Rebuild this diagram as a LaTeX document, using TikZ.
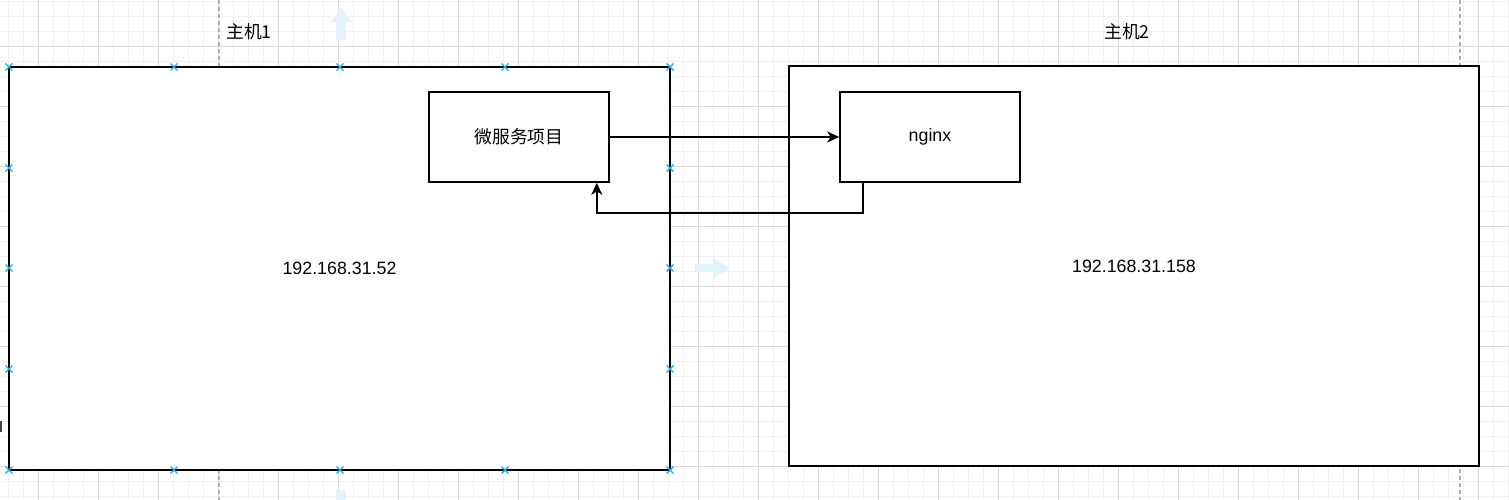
\documentclass[tikz,border=0pt]{standalone}
\usepackage{fontspec}
\setmainfont{Liberation Sans}
\newfontfamily\cjk{Noto Sans CJK SC}
\usetikzlibrary{arrows.meta,calc}
\definecolor{gminor}{HTML}{F1F1F1}
\definecolor{gmajor}{HTML}{DADADA}
\definecolor{selblue}{HTML}{29A8E8}
\definecolor{hoverblue}{HTML}{E3F3FC}
\tikzset{
  box/.style={draw=black, line width=1.6pt, fill=white, inner sep=0pt, font=\fontsize{17.8}{21}\selectfont},
  conn/.style={draw=black, line width=1.6pt, -{Stealth[length=12pt,width=11pt,inset=3.5pt]}},
  lbl/.style={font=\fontsize{17.8}{21}\selectfont, inner sep=0pt},
  minorgrid/.style={draw=gminor, line width=0.8pt},
  majorgrid/.style={draw=gmajor, line width=0.8pt},
  pagebreak/.style={draw=gmajor!80!black, line width=1.2pt, dash pattern=on 4pt off 3pt},
  selmark/.style={draw=selblue, line width=1.4pt},
  hover/.style={fill=hoverblue, draw=none}
}
\begin{document}
\begin{tikzpicture}[x=1pt,y=-1pt]
\useasboundingbox (0,0) rectangle (1509,500);
\fill[white] (0,0) rectangle (1509,500);
% grid
\foreach \i in {0,...,100} {
  \pgfmathsetmacro\gx{8+15*\i}
  \draw[minorgrid] (\gx,0) -- (\gx,500);
}
\foreach \i in {0,...,33} {
  \pgfmathsetmacro\gy{1.7+15*\i}
  \draw[minorgrid] (0,\gy) -- (1509,\gy);
}
\foreach \i in {0,...,24} {
  \pgfmathsetmacro\gx{38+60*\i}
  \draw[majorgrid] (\gx,0) -- (\gx,500);
}
\foreach \i in {0,...,7} {
  \pgfmathsetmacro\gy{46.7+60*\i}
  \draw[majorgrid] (0,\gy) -- (1509,\gy);
}
\draw[pagebreak] (219,0) -- (219,500);
\draw[pagebreak] (1460,0) -- (1460,500);
% hover arrows (editor)
\fill[hover] (336,40) -- (336,22) -- (331,22) -- (341,7) -- (351,22) -- (346,22) -- (346,40) -- cycle;
\fill[hover] (695,264) -- (713,264) -- (713,258) -- (730,268) -- (713,278) -- (713,272) -- (695,272) -- cycle;
\fill[hover] (336,490) rectangle (346,500);
\fill[black!75] (0,421) rectangle (2,432);
% labels
\node[lbl] (h1) at (249,32) {\cjk{主机}1};
\node[lbl] (h2) at (1127,32) {\cjk{主机}2};
% hosts
\node[box, minimum width=661pt, minimum height=403pt] (host1) at (339.5,268.5) {192.168.31.52};
\node[box, minimum width=690pt, minimum height=400pt] (host2) at (1134,266) {192.168.31.158};
% selection markers on host1
\foreach \mx/\my in {9/67,174/67,340/67,505/67,670/67,9/470,174/470,340/470,505/470,670/470,9/168,9/268,9/369,670/168,670/268,670/369} {
  \draw[selmark] (\mx-3.5,\my-3.5) -- (\mx+3.5,\my+3.5) (\mx-3.5,\my+3.5) -- (\mx+3.5,\my-3.5);
}
% services
\node[box, minimum width=180pt, minimum height=90pt] (ms) at (519,137) {\cjk{微服务项目}};
\node[box, minimum width=180pt, minimum height=90pt] (ngx) at (930,137) {nginx};
% connectors
\draw[conn] (ms.east) -- (ngx.west);
\draw[conn] ([xshift=24pt]ngx.south west) -- ++(0,30) -| ([xshift=-13pt]ms.south east);
\end{tikzpicture}
\end{document}
